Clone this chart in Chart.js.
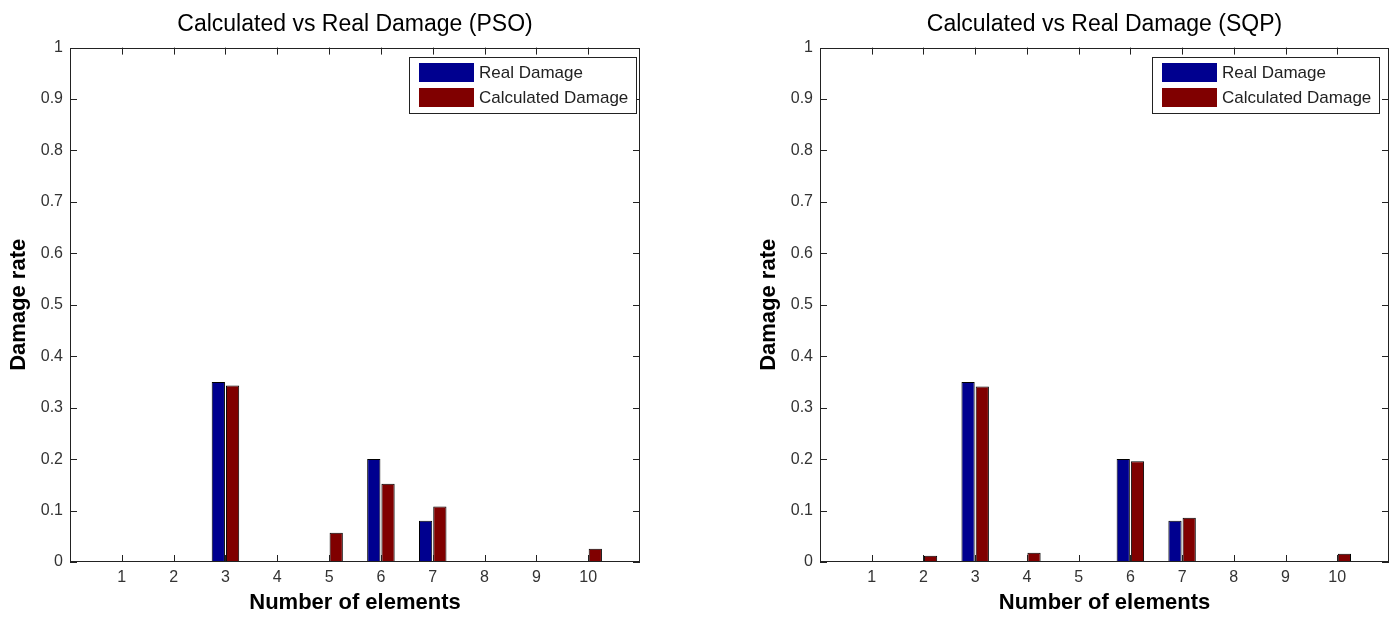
<!DOCTYPE html>
<html>
<head>
<meta charset="utf-8">
<script src="https://cdn.jsdelivr.net/npm/chart.js@4.4.0/dist/chart.umd.min.js"></script>
<style>
html, body { margin: 0; padding: 0; background: #fff; }
#wrap { position: relative; width: 1392px; height: 618px; overflow: hidden; }
.box { position: absolute; top: 0; height: 618px; }
</style>
</head>
<body>
<div id="wrap">
  <div class="box" style="left:0;width:700px"><canvas id="chartPSO" width="700" height="618"></canvas></div>
  <div class="box" style="left:750px;width:642px"><canvas id="chartSQP" width="642" height="618"></canvas></div>
</div>
<script>
// data
var elements = [1, 2, 3, 4, 5, 6, 7, 8, 9, 10];
var realDamage = [0, 0, 0.35, 0, 0, 0.2, 0.08, 0, 0, 0];
var psoDamage = [0, 0, 0.343, 0, 0.057, 0.152, 0.108, 0, 0, 0.026];
var sqpDamage = [0, 0.012, 0.341, 0.018, 0, 0.196, 0.086, 0, 0, 0.016];
var yTicks = [0, 0.1, 0.2, 0.3, 0.4, 0.5, 0.6, 0.7, 0.8, 0.9, 1];

var FONT = '"Liberation Sans", Arial, sans-serif';

function points(vals) {
    return elements.map(function (e, i) { return { x: e, y: vals[i] }; });
}

// box, inward ticks and the legend, matlab style
var matlabFrame = {
    id: 'matlabFrame',
    afterDatasetsDraw: function (chart, args, opts) {
        var ctx = chart.ctx, a = chart.chartArea;
        var xs = chart.scales.x, ys = chart.scales.y;
        ctx.save();
        ctx.strokeStyle = '#222';
        ctx.lineWidth = 1;
        ctx.beginPath();
        xs.ticks.forEach(function (t) {
            var px = Math.round(xs.getPixelForValue(t.value)) + 0.5;
            ctx.moveTo(px, a.bottom); ctx.lineTo(px, a.bottom - 7);
            ctx.moveTo(px, a.top); ctx.lineTo(px, a.top + 7);
        });
        ys.ticks.forEach(function (t) {
            var py = Math.round(ys.getPixelForValue(t.value)) + 0.5;
            ctx.moveTo(a.left, py); ctx.lineTo(a.left + 7, py);
            ctx.moveTo(a.right, py); ctx.lineTo(a.right - 7, py);
        });
        ctx.stroke();
        ctx.strokeRect(Math.round(a.left) + 0.5, Math.round(a.top) + 0.5,
            Math.round(a.width) - 1, Math.round(a.height) - 1);

        // legend
        var ds = chart.data.datasets;
        ctx.font = '17px ' + FONT;
        var tw = 0;
        ds.forEach(function (d) { tw = Math.max(tw, ctx.measureText(d.label).width); });
        var w = Math.round(10 + 55 + 5 + tw + 8), h = 56;
        var lx = Math.round(a.right - opts.right - w), ly = Math.round(a.top + 9);
        ctx.fillStyle = '#fff';
        ctx.fillRect(lx, ly, w, h);
        ctx.strokeRect(lx + 0.5, ly + 0.5, w, h);
        ds.forEach(function (d, i) {
            var sy = ly + 6 + i * 25;
            ctx.fillStyle = d.backgroundColor;
            ctx.fillRect(lx + 10, sy, 55, 19);
            ctx.fillStyle = '#222';
            ctx.textBaseline = 'middle';
            ctx.textAlign = 'left';
            ctx.fillText(d.label, lx + 70, sy + 10);
        });
        ctx.restore();
    }
};

function makeChart(id, title, calc, padRight, legendRight) {
    var ctx = document.getElementById(id).getContext('2d');
    return new Chart(ctx, {
        type: 'bar',
        data: {
            datasets: [{
                label: 'Real Damage',
                data: points(realDamage),
                backgroundColor: 'rgb(0,0,143)',
                borderColor: '#000',
                borderWidth: 1,
                borderSkipped: false,
                categoryPercentage: 0.55,
                barPercentage: 0.93
            }, {
                label: 'Calculated Damage',
                data: points(calc),
                backgroundColor: 'rgb(128,0,0)',
                borderColor: '#000',
                borderWidth: 1,
                borderSkipped: false,
                categoryPercentage: 0.55,
                barPercentage: 0.93
            }]
        },
        options: {
            responsive: false,
            animation: false,
            layout: { padding: { left: 0, right: padRight, top: 0, bottom: 0 } },
            plugins: {
                legend: { display: false },
                tooltip: { enabled: false },
                title: {
                    display: true,
                    text: title,
                    fullSize: false,
                    color: '#000',
                    font: { family: FONT, size: 23, weight: 'normal' },
                    padding: { top: 11, bottom: 9 }
                },
                matlabFrame: { right: legendRight }
            },
            scales: {
                x: {
                    type: 'linear',
                    position: 'bottom',
                    min: 0,
                    max: 11,
                    offset: false,
                    grid: { display: false, drawTicks: false },
                    border: { display: false },
                    afterBuildTicks: function (s) {
                        s.ticks = elements.map(function (v) { return { value: v }; });
                    },
                    afterFit: function (s) { s.height = 56; },
                    ticks: {
                        color: '#333', font: { family: FONT, size: 16 }, padding: 6,
                        maxRotation: 0, autoSkip: false,
                        callback: function (v) { return String(v); }
                    },
                    title: {
                        display: true,
                        text: 'Number of elements',
                        color: '#000',
                        font: { family: FONT, size: 22, weight: 'bold' },
                        padding: { top: 0, bottom: 2 }
                    }
                },
                y: {
                    min: 0,
                    max: 1,
                    grid: { display: false, drawTicks: false },
                    border: { display: false },
                    afterBuildTicks: function (s) {
                        s.ticks = yTicks.map(function (v) { return { value: v }; });
                    },
                    afterFit: function (s) { s.width = 70; },
                    ticks: {
                        color: '#333', font: { family: FONT, size: 16 }, padding: 7, autoSkip: false,
                        callback: function (v) { return String(v); }
                    },
                    title: {
                        display: true,
                        text: 'Damage rate',
                        color: '#000',
                        font: { family: FONT, size: 22, weight: 'bold' },
                        padding: { top: 6, bottom: 0 }
                    }
                }
            }
        },
        plugins: [matlabFrame]
    });
}

makeChart('chartPSO', 'Calculated vs Real Damage (PSO)', psoDamage, 60, 4);
makeChart('chartSQP', 'Calculated vs Real Damage (SQP)', sqpDamage, 3, 10);
</script>
</body>
</html>
